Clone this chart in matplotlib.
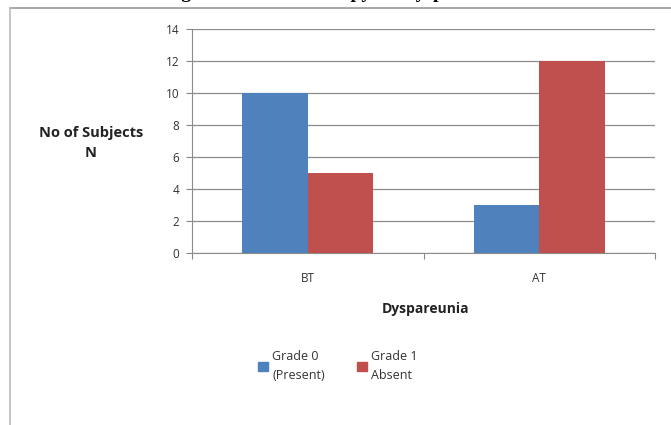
import matplotlib
matplotlib.use("Agg")
import matplotlib.pyplot as plt
from matplotlib.lines import Line2D
from matplotlib.patches import Patch
import numpy as np

# data
categories = ["BT", "AT"]
grade0 = [10, 3]   # Grade 0 (Present)
grade1 = [5, 12]   # Grade 1 Absent
series_labels = ["Grade 0\n(Present)", "Grade 1\nAbsent"]
yticks = [0, 2, 4, 6, 8, 10, 12, 14]

blue = "#4F81BD"
red = "#C0504D"
plt.rcParams["font.family"] = ["Open Sans", "DejaVu Sans"]

fig = plt.figure(figsize=(6.71, 4.25), dpi=100)
ax = fig.add_axes([192 / 671, 1 - 253 / 425, 463 / 671, 224 / 425])

x = np.arange(len(categories))
w = 0.283
ax.bar(x - w / 2, grade0, w, color=blue, zorder=3)
ax.bar(x + w / 2, grade1, w, color=red, zorder=3)

ax.set_xlim(-0.5, 1.5)
ax.set_ylim(0, 14)
ax.set_yticks(yticks)
ax.tick_params(axis="y", labelsize=8.5, colors="#333333", length=4, color="#888888", pad=5)
ax.yaxis.grid(True, color="#8c8c8c", linewidth=0.9, zorder=0)

# category boundary ticks on x axis, labels at centers
ax.set_xticks([-0.5, 0.5, 1.5])
ax.set_xticklabels([])
ax.set_xticks(x, minor=True)
ax.set_xticklabels(categories, minor=True)
ax.tick_params(axis="x", which="major", length=4, color="#888888")
ax.tick_params(axis="x", which="minor", length=0, labelsize=8.5, colors="#333333", pad=14)

for s in ["top", "right"]:
    ax.spines[s].set_visible(False)
ax.spines["left"].set_color("#8c8c8c")
ax.spines["bottom"].set_color("#8c8c8c")

fig.text(91 / 671, 1 - 143 / 425, "No of Subjects\nN", ha="center", va="center",
         fontsize=10.5, fontweight="bold", linespacing=1.6, color="#222222")
fig.text(425 / 671, 1 - 309 / 425, "Dyspareunia", ha="center", va="center",
         fontsize=10, fontweight="bold", color="#222222")

handles = [Patch(color=blue), Patch(color=red)]
fig.legend(handles, series_labels, loc="center", bbox_to_anchor=(338 / 671, 1 - 366 / 425),
           ncol=2, frameon=False, fontsize=9, handlelength=0.75, handleheight=0.75,
           handletextpad=0.35, columnspacing=2.6, labelcolor="#333333")
for t in fig.legends[0].get_texts():
    t.set_linespacing(1.6)

# chart frame edges
fig.add_artist(Line2D([10 / 671, 1], [1 - 8 / 425] * 2, color="#999999", lw=1.2))
fig.add_artist(Line2D([10 / 671] * 2, [0, 1 - 8 / 425], color="#bbbbbb", lw=1.2))

# title mostly cut off at top of the image
fig.text(0.5, 1 + 2 / 425, "Figure: Effect of therapy on Dyspareunia", ha="center", va="baseline",
         fontsize=14, fontweight="bold", family=["Liberation Serif", "DejaVu Serif"])

fig.savefig("out.png", dpi=100)
